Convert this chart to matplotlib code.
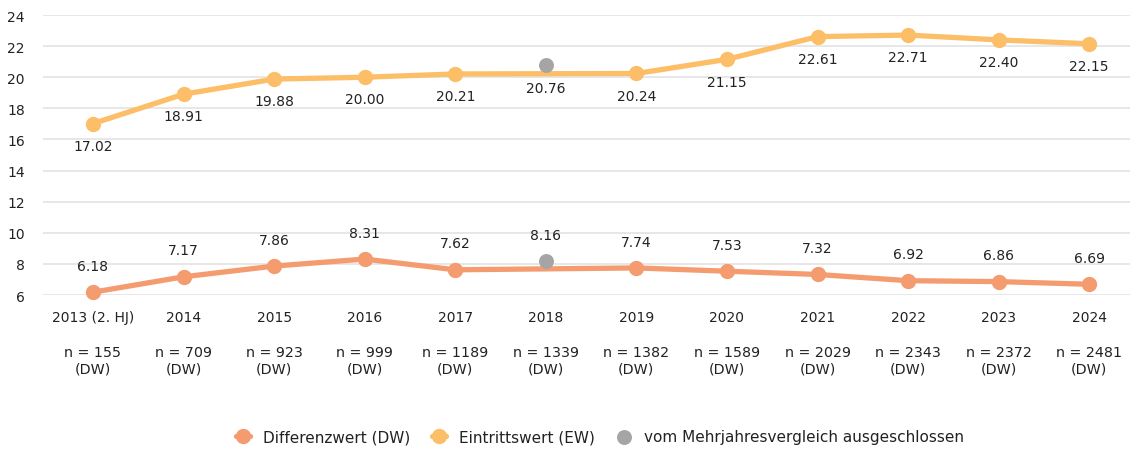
import matplotlib.pyplot as plt
import numpy as np

# categories and values
years = ["2013 (2. HJ)", "2014", "2015", "2016", "2017", "2018",
         "2019", "2020", "2021", "2022", "2023", "2024"]
n_counts = [155, 709, 923, 999, 1189, 1339, 1382, 1589, 2029, 2343, 2372, 2481]
ew_values = [17.02, 18.91, 19.88, 20.00, 20.21, 20.76,
             20.24, 21.15, 22.61, 22.71, 22.40, 22.15]
dw_values = [6.18, 7.17, 7.86, 8.31, 7.62, 8.16,
             7.74, 7.53, 7.32, 6.92, 6.86, 6.69]
excluded = ["2018"]

ew_color = "#FDBE68"
dw_color = "#F49C70"
grey = "#A5A5A5"
text_color = "#222222"

fig = plt.figure(figsize=(11.36, 4.52), dpi=100)
ax = fig.add_axes([43 / 1136, 1 - 296 / 452, 1087 / 1136, 280 / 452])

x = np.arange(len(years))
keep = [i for i, y in enumerate(years) if y not in excluded]
drop = [i for i, y in enumerate(years) if y in excluded]

ew_kept = [ew_values[i] for i in keep]
dw_kept = [dw_values[i] for i in keep]

ax.plot(x[keep], dw_kept, color=dw_color, lw=3.8, marker="o", ms=10,
        solid_capstyle="round", clip_on=False, zorder=3, label="Differenzwert (DW)")
ax.plot(x[keep], ew_kept, color=ew_color, lw=3.8, marker="o", ms=10,
        solid_capstyle="round", clip_on=False, zorder=3, label="Eintrittswert (EW)")
ax.scatter(x[drop], [ew_values[i] for i in drop], s=95, color=grey, zorder=4,
           clip_on=False, label="vom Mehrjahresvergleich ausgeschlossen")
ax.scatter(x[drop], [dw_values[i] for i in drop], s=95, color=grey, zorder=4,
           clip_on=False)

# value labels: EW below, DW above
for i in range(len(years)):
    ax.annotate(f"{ew_values[i]:.2f}", (x[i], ew_values[i]), xytext=(0, -16),
                textcoords="offset points", ha="center", va="center",
                fontsize=10, color=text_color)
    ax.annotate(f"{dw_values[i]:.2f}", (x[i], dw_values[i]), xytext=(0, 19),
                textcoords="offset points", ha="center", va="center",
                fontsize=10, color=text_color)

ax.set_xlim(-0.552, 11.45)
ax.set_ylim(6, 24)
ax.set_yticks(range(6, 25, 2))
ax.tick_params(axis="y", length=0, pad=13, labelsize=10, labelcolor=text_color)
ax.set_xticks([])
ax.grid(axis="y", color="#E5E5E5", lw=1.3)
ax.set_axisbelow(True)
for s in ax.spines.values():
    s.set_visible(False)

# category labels and n counts below the axis
for i in range(len(years)):
    ax.annotate(years[i], (x[i], 6), xytext=(0, -16), textcoords="offset points",
                ha="center", va="center", fontsize=10, color=text_color,
                annotation_clip=False)
    ax.annotate(f"n = {n_counts[i]}\n(DW)", (x[i], 6), xytext=(0, -47),
                textcoords="offset points", ha="center", va="center",
                fontsize=10.3, color=text_color, linespacing=1.25,
                annotation_clip=False)

leg = fig.legend(loc="center", bbox_to_anchor=(600 / 1136, 1 - 438 / 452),
                 ncol=3, frameon=False, handlelength=0.9,
                 columnspacing=1.4, handletextpad=0.9,
                 prop={"family": ["Liberation Sans Narrow", "DejaVu Sans"], "size": 11})
for t in leg.get_texts():
    t.set_color(text_color)

fig.savefig("out.png", dpi=100)
